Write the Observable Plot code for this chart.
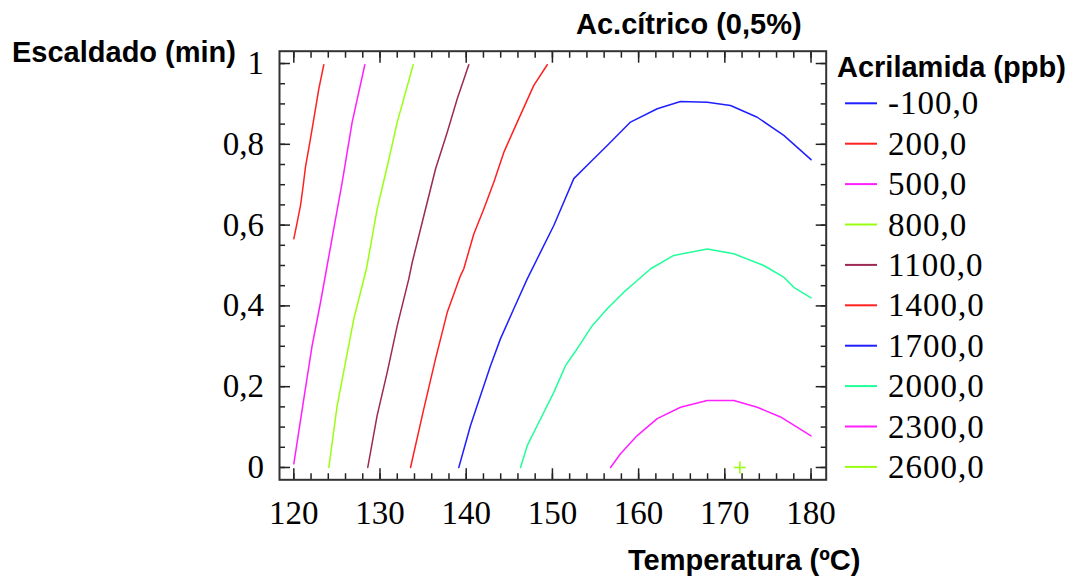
<!DOCTYPE html>
<html>
<head>
<meta charset="utf-8">
<script src="https://cdn.jsdelivr.net/npm/d3@7"></script>
<script src="https://cdn.jsdelivr.net/npm/@observablehq/plot@0.6"></script>
<style>
  html, body { margin: 0; padding: 0; background: #fff; }
  #chart { width: 1077px; height: 578px; overflow: hidden; }
</style>
</head>
<body>
<div id="chart"></div>
<script>
// ---- Data ----
const chartTitle = "Ac.cítrico (0,5%)";
const xTitle = "Temperatura (ºC)";
const yTitle = "Escaldado (min)";
const legendTitle = "Acrilamida (ppb)";

const temperaturaTicks = [120, 130, 140, 150, 160, 170, 180];
const temperaturaLabels = ["120", "130", "140", "150", "160", "170", "180"];
const escaldadoTicks = [0, 0.2, 0.4, 0.6, 0.8, 1];
const escaldadoLabels = ["0", "0,2", "0,4", "0,6", "0,8", "1"];

const levels = ["-100,0", "200,0", "500,0", "800,0", "1100,0", "1400,0", "1700,0", "2000,0", "2300,0", "2600,0"];

// contour lines: [temperatura, escaldado]
const line200 = [[120.0,0.566],[120.39,0.607],[120.78,0.649],[121.09,0.698],[121.36,0.745],[121.86,0.805],[122.32,0.863],[122.9,0.937],[123.48,0.997]];
const line500 = [[120.0,0.009],[121.16,0.170],[122.13,0.302],[123.10,0.409],[123.87,0.5],[124.64,0.591],[125.61,0.706],[126.77,0.855],[128.24,0.997]];
const line800 = [[124.06,0],[125.03,0.153],[126.0,0.261],[126.96,0.368],[127.93,0.45],[128.43,0.492],[129.67,0.64],[130.84,0.745],[132.0,0.855],[133.85,0.997]];
const line1100 = [[128.58,0],[129.67,0.129],[130.84,0.236],[132.0,0.351],[133.34,0.467],[133.74,0.508],[135.28,0.64],[136.44,0.739],[137.8,0.83],[138.96,0.913],[140.3,0.997]];
const line1400 = [[133.54,0],[135.08,0.145],[136.44,0.269],[137.8,0.384],[139.34,0.475],[139.72,0.492],[140.88,0.578],[142.04,0.64],[143.2,0.706],[144.36,0.78],[145.92,0.855],[147.84,0.946],[149.4,0.997]];
const line1700 = [[139.14,0],[140.5,0.104],[141.66,0.178],[142.82,0.252],[143.98,0.319],[145.52,0.393],[147.08,0.467],[148.62,0.533],[150.16,0.599],[152.48,0.715],[154.42,0.756],[156.36,0.797],[159.06,0.855],[162.16,0.888],[164.86,0.906],[167.96,0.904],[170.66,0.896],[173.76,0.867],[176.84,0.822],[180,0.762]];
const line2000 = [[146.3,0],[147.08,0.054],[148.62,0.12],[150.16,0.186],[151.52,0.252],[152.88,0.294],[154.62,0.351],[156.36,0.393],[158.28,0.434],[159.84,0.463],[161.4,0.492],[164.08,0.525],[167.96,0.541],[171.04,0.529],[174.52,0.5],[176.84,0.471],[178.0,0.446],[180,0.42]];
const line2300 = [[156.74,0],[157.9,0.034],[159.84,0.079],[162.16,0.121],[164.86,0.149],[167.96,0.166],[171.04,0.166],[173.76,0.149],[176.46,0.125],[180,0.078]];
const point2600 = [[171.74, 0.0]];

// ---- Styles ----
const levelColors = ["#1f1fff", "#ff2020", "#ff1fff", "#99ff10", "#9c2a55", "#ff2020", "#1f1fff", "#20ff99", "#ff1fff", "#99ff10"];

const contourSets = [
  ["200,0", line200], ["500,0", line500], ["800,0", line800], ["1100,0", line1100],
  ["1400,0", line1400], ["1700,0", line1700], ["2000,0", line2000], ["2300,0", line2300]
];
const rows = contourSets.flatMap(([level, pts]) => pts.map(([t, e]) => ({level, t, e})));
const pointRows = point2600.map(([t, e]) => ({level: "2600,0", t, e}));

const serif = "'Liberation Serif', 'Times New Roman', serif";
const sans = "'Liberation Sans', Arial, sans-serif";
const minorX = d3.range(120, 181, 2);
const minorY = d3.range(0, 21).map(i => i / 20);

const axisStroke = "#222";

const plot = Plot.plot({
  width: 1077,
  height: 578,
  marginLeft: 279,
  marginRight: 251.3,
  marginTop: 50.7,
  marginBottom: 98.7,
  style: {fontFamily: serif, background: "#fff", color: "#000", overflow: "visible"},
  x: {domain: [118.34, 181.76], label: null},
  y: {domain: [-0.0305, 1.0305], label: null},
  color: {domain: levels, range: levelColors},
  marks: [
    // minor ticks (inward)
    Plot.axisX(minorX, {anchor: "bottom", tickSize: -6, fill: "none", stroke: axisStroke, strokeWidth: 1.5, label: null}),
    Plot.axisX(minorX, {anchor: "top", tickSize: -6, fill: "none", stroke: axisStroke, strokeWidth: 1.5, label: null}),
    Plot.axisY(minorY, {anchor: "left", tickSize: -6, fill: "none", stroke: axisStroke, strokeWidth: 1.5, label: null}),
    Plot.axisY(minorY, {anchor: "right", tickSize: -6, fill: "none", stroke: axisStroke, strokeWidth: 1.5, label: null}),
    // major ticks (inward)
    Plot.axisX(temperaturaTicks, {anchor: "bottom", tickSize: -11, fill: "none", stroke: axisStroke, strokeWidth: 1.5, label: null}),
    Plot.axisX(temperaturaTicks, {anchor: "top", tickSize: -11, fill: "none", stroke: axisStroke, strokeWidth: 1.5, label: null}),
    Plot.axisY(escaldadoTicks, {anchor: "left", tickSize: -11, fill: "none", stroke: axisStroke, strokeWidth: 1.5, label: null}),
    Plot.axisY(escaldadoTicks, {anchor: "right", tickSize: -11, fill: "none", stroke: axisStroke, strokeWidth: 1.5, label: null}),
    // tick labels
    Plot.axisX(temperaturaTicks, {anchor: "bottom", tickSize: 0, tickPadding: 21, fontSize: 33, fontFamily: serif, fill: "#000",
      tickFormat: (d) => temperaturaLabels[temperaturaTicks.indexOf(d)], label: null}),
    Plot.axisY(escaldadoTicks, {anchor: "left", tickSize: 0, tickPadding: 15.5, fontSize: 33, fontFamily: serif, fill: "#000",
      tickFormat: (d) => escaldadoLabels[escaldadoTicks.indexOf(d)], label: null}),
    Plot.frame({stroke: "#333", strokeWidth: 2}),
    Plot.line(rows, {x: "t", y: "e", z: "level", stroke: "level", strokeWidth: 1.5}),
    Plot.dot(pointRows, {x: "t", y: "e", stroke: "level", symbol: "plus", r: 4, strokeWidth: 1.6})
  ]
});

const svg = d3.select(plot);
const addText = (txt, x, y, opts) => svg.append("text")
  .attr("x", x).attr("y", y)
  .attr("text-anchor", "start")
  .attr("font-family", opts.family)
  .attr("font-size", opts.size)
  .attr("font-weight", opts.weight || "normal")
  .attr("letter-spacing", opts.spacing || 0)
  .attr("fill", "#000")
  .text(txt);

addText(yTitle, 12, 62, {family: sans, size: 29, weight: "bold"});
addText(chartTitle, 576, 34, {family: sans, size: 29, weight: "bold"});
addText(legendTitle, 837, 77, {family: sans, size: 29, weight: "bold"});
addText(xTitle, 628, 570, {family: sans, size: 29, weight: "bold"});

levels.forEach((lv, i) => {
  const cy = 103.3 + i * 40.4;
  svg.append("line").attr("x1", 845).attr("x2", 877).attr("y1", cy).attr("y2", cy)
    .attr("stroke", levelColors[i]).attr("stroke-width", 2);
  addText(lv, 888, cy + 11, {family: serif, size: 33, spacing: 1});
});

document.getElementById("chart").appendChild(plot);
</script>
</body>
</html>
